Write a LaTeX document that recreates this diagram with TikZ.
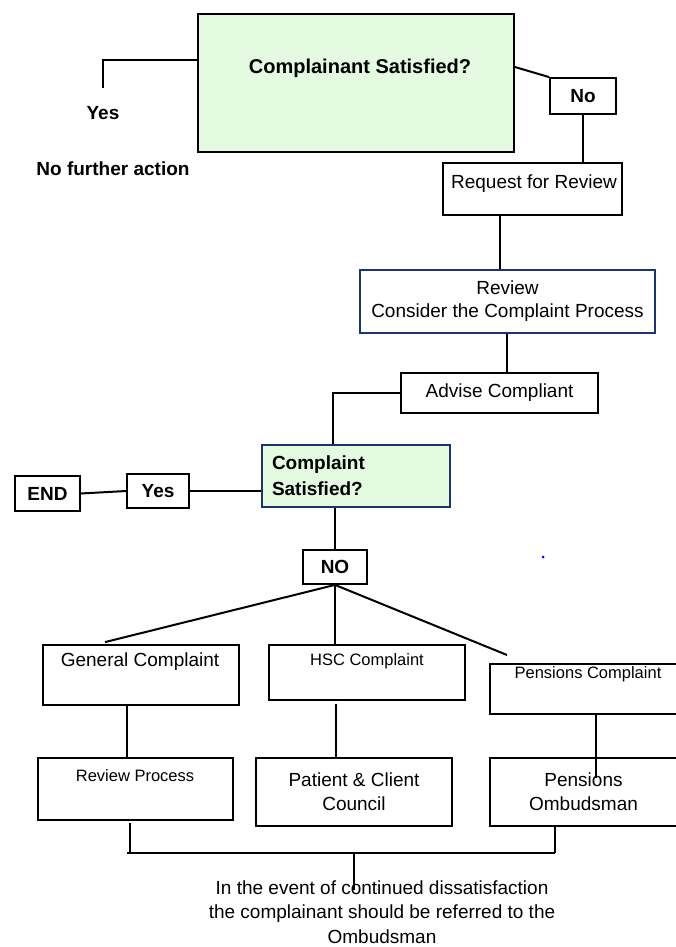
\documentclass[tikz,border=0pt]{standalone}
\usepackage{fontspec}
\setmainfont{Liberation Sans}
\definecolor{boxgreen}{RGB}{228,251,226}
\definecolor{navy}{RGB}{30,52,110}
\newcommand{\fm}{\fontsize{19}{24}\selectfont}
\newcommand{\fsm}{\fontsize{16.5}{20}\selectfont}
\begin{document}
\begin{tikzpicture}[x=1pt,y=-1pt,
  box/.style={draw, line width=1.8pt, inner sep=0pt, align=center, font=\fm},
  txt/.style={inner sep=0pt, align=center, font=\fm},
  bt/.style={inner sep=0pt, align=center, font=\fm\bfseries},
  con/.style={line width=2pt}]
\useasboundingbox (0,0) rectangle (675,947);

% boxes
\node[box, fill=boxgreen, minimum width=316pt, minimum height=138pt] (topq) at (356,83) {};
\node[bt, font=\fontsize{20}{24}\selectfont\bfseries] (topqt) at (360,68) {Complainant Satisfied?};
\node[bt] (yes1) at (103,113) {Yes};
\node[bt] (nfa) at (113,169) {No further action};
\node[box, font=\fm\bfseries, minimum width=66pt, minimum height=36pt] (no1) at (583,96) {No};
\node[box, minimum width=179pt, minimum height=52pt] (req) at (532.5,189) {};
\node[txt] (reqt) at (534,184) {Request for Review};
\node[box, draw=navy, minimum width=295pt, minimum height=63pt, font=\fontsize{19}{23}\selectfont] (rev) at (507.5,301.5) {Review\\Consider the Complaint Process};
\node[box, minimum width=197pt, minimum height=40pt] (adv) at (499.5,393) {Advise Compliant};
\node[box, draw=navy, fill=boxgreen, minimum width=188pt, minimum height=62pt, text width=168pt, align=left, font=\fontsize{19}{26}\selectfont\bfseries] (q2) at (356,476) {Complaint\\Satisfied?};
\node[box, font=\fm\bfseries, minimum width=62pt, minimum height=34pt] (yes2) at (158,491) {Yes};
\node[box, font=\fm\bfseries, minimum width=65pt, minimum height=35pt] (end) at (47.5,493.5) {END};
\node[box, font=\fm\bfseries, minimum width=64pt, minimum height=34pt] (no2) at (335,567) {NO};

\node[box, minimum width=196pt, minimum height=60pt] (gen) at (141,675) {};
\node[txt] (gent) at (140,662) {General Complaint};
\node[box, minimum width=196pt, minimum height=55pt] (hsc) at (367,672.5) {};
\node[txt, font=\fsm] (hsct) at (367,661) {HSC Complaint};
\node[box, minimum width=187pt, minimum height=50pt] (pen) at (583.5,689) {};
\node[txt, font=\fsm] (pent) at (588,674) {Pensions Complaint};

\node[box, minimum width=195pt, minimum height=62pt] (rp) at (135.5,789) {};
\node[txt, font=\fsm] (rpt) at (135,776) {Review Process};
\node[box, minimum width=196pt, minimum height=68pt] (pcc) at (354,792) {Patient \& Client\\Council};
\node[box, minimum width=187pt, minimum height=68pt] (po) at (583.5,792) {Pensions\\Ombudsman};

\node[txt, font=\fontsize{19}{24.5}\selectfont] (note) at (382,912) {In the event of continued dissatisfaction\\the complainant should be referred to the\\Ombudsman};

% connectors
\coordinate (yesstub) at (103,88);
\draw[con] ([yshift=23pt]topq.west) -| (yesstub);
\draw[con] ([yshift=16pt]topq.east) -- (no1.north west);
\draw[con] (no1.south) -- (no1.south |- req.north);
\draw[con] ([xshift=-32.5pt]req.south) -- ([xshift=-32.5pt]req.south |- rev.north);
\draw[con] ([xshift=-0.5pt]rev.south) -- ([xshift=-0.5pt]rev.south |- adv.north);
\draw[con] (adv.west) -| ([xshift=-23pt]q2.north);
\draw[con] (yes2.east) -- (yes2.east -| q2.west);
\draw[con] (end.east) -- (yes2.west);
\draw[con] (no2.north) -- (no2.north |- q2.south);

\coordinate (penend) at (507,655);
\draw[con] (no2.south) -- ([xshift=-36pt,yshift=2pt]gen.north);
\draw[con] (no2.south) -- (no2.south |- hsc.north);
\draw[con] (no2.south) -- (penend);

\draw[con] ([xshift=-14pt]gen.south) -- ([xshift=-14pt]gen.south |- rp.north);
\draw[con] ([xshift=-31pt,yshift=-3pt]hsc.south) -- ([xshift=-31pt]hsc.south |- pcc.north);
\coordinate (pendrop) at (596,778);
\draw[con] ([xshift=12.5pt]pen.south) -- (pendrop);

\coordinate (busL) at (127,853);
\coordinate (busR) at (555,853);
\coordinate (busM) at (354,853);
\coordinate (busend) at (354,890);
\draw[con] ([xshift=-5.5pt,yshift=-2pt]rp.south) -- ([xshift=-5.5pt]rp.south |- busL);
\draw[con] ([xshift=-28.5pt]po.south) -- ([xshift=-28.5pt]po.south |- busR);
\draw[con] (busL) -- (busR);
\draw[con] (busM) -- (busend);

\fill[blue] (543,557) circle (1.5pt);
\end{tikzpicture}
\end{document}
